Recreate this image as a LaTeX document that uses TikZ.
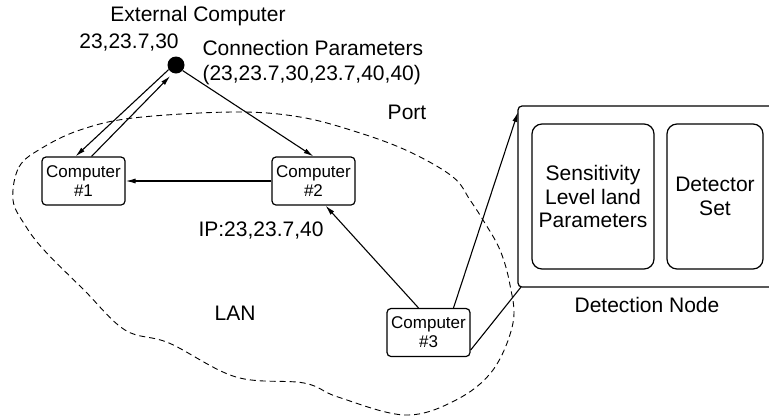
\documentclass[tikz,border=0pt]{standalone}
\usepackage{fontspec}
\setmainfont{Liberation Sans}
\usetikzlibrary{arrows.meta}

\begin{document}
\begin{tikzpicture}[x=1pt,y=-1pt,
  font=\fontsize{21}{24}\selectfont,
  link/.style={-{Latex[length=10pt,width=5pt]}, line width=1.1pt},
  wire/.style={line width=1.1pt},
  pc/.style={draw, line width=1.2pt, rounded corners=4pt, align=center,
             minimum width=83pt, minimum height=48pt, inner sep=1pt,
             font=\fontsize{17}{19}\selectfont},
  part/.style={draw, line width=1.2pt, rounded corners=10pt, align=center,
               minimum height=145pt, inner sep=2pt,
               font=\fontsize{21}{23.5}\selectfont},
  lan/.style={dash pattern=on 6pt off 4pt, line width=0.9pt}]

\path[use as bounding box] (0,0) rectangle (769,416);

% ------------------------------------------------------------------ LAN cloud
\draw[lan] plot[smooth cycle, tension=0.6] coordinates {
  (13,200) (19,167) (42,148) (80,130) (133,118) (233,112) (300,117)
  (360,133) (410,152) (453,177) (470,200) (483,220) (500,250) (510,285)
  (513,323) (493,370) (456,400) (405,415) (338,397) (304,383) (236,377)
  (169,343) (125,330) (84,290) (44,250) (25,225)};
\node (lan) at (235,313) {LAN};

% ------------------------------------------------------------ outside the LAN
\node[circle, fill, inner sep=0pt, minimum size=17pt] (ext) at (176,65) {};
\node (extname) at (198,16) {External Computer};
\node (extip) at (129,43) {23,23.7,30};
\node[anchor=west, align=left, font=\fontsize{21}{25}\selectfont] (cparams)
  at (199,63) {Connection Parameters\\(23,23.7,30,23.7,40,40)};
\node (port) at (407,112) {Port};

% computers
\node[pc] (c1) at (83.5,181) {Computer\\\#1};
\node[pc] (c2) at (313.5,181) {Computer\\\#2};
\node[pc] (c3) at (428.5,332.5) {Computer\\\#3};
\node (c2ip) at (261,231) {IP:23,23.7,40};

% ------------------------------------------------------------ detection node
\coordinate (detTL) at (518,112);
\coordinate (detBL) at (521,287);
\draw[line width=1.2pt, rounded corners=4pt]
  (780,106) -- (518,106) -- (518,287) -- (780,287);
\node[part, minimum width=122pt] (sens) at (593,196.5)
  {Sensitivity\\Level land\\Parameters};
\node[part, minimum width=96pt] (detset) at (715,196.5) {Detector\\Set};
\node (detname) at (647,305) {Detection Node};

% ------------------------------------------------------------ connections
\draw[link] (ext.212) -- ([xshift=-8pt]c1.north);
\draw[link, shorten >=4pt] ([xshift=8pt]c1.north) -- (ext.250);
\draw[link] (ext.-40) -- (c2.north);
\draw[link] (c2.west) -- (c1.east);
\draw[link] ([xshift=-10pt]c3.north) -- ([xshift=12pt]c2.south);
\draw[link] ([xshift=25pt]c3.north) -- (detTL);
\draw[wire] ([yshift=7pt]c3.south east) -- (detBL);
\end{tikzpicture}
\end{document}
